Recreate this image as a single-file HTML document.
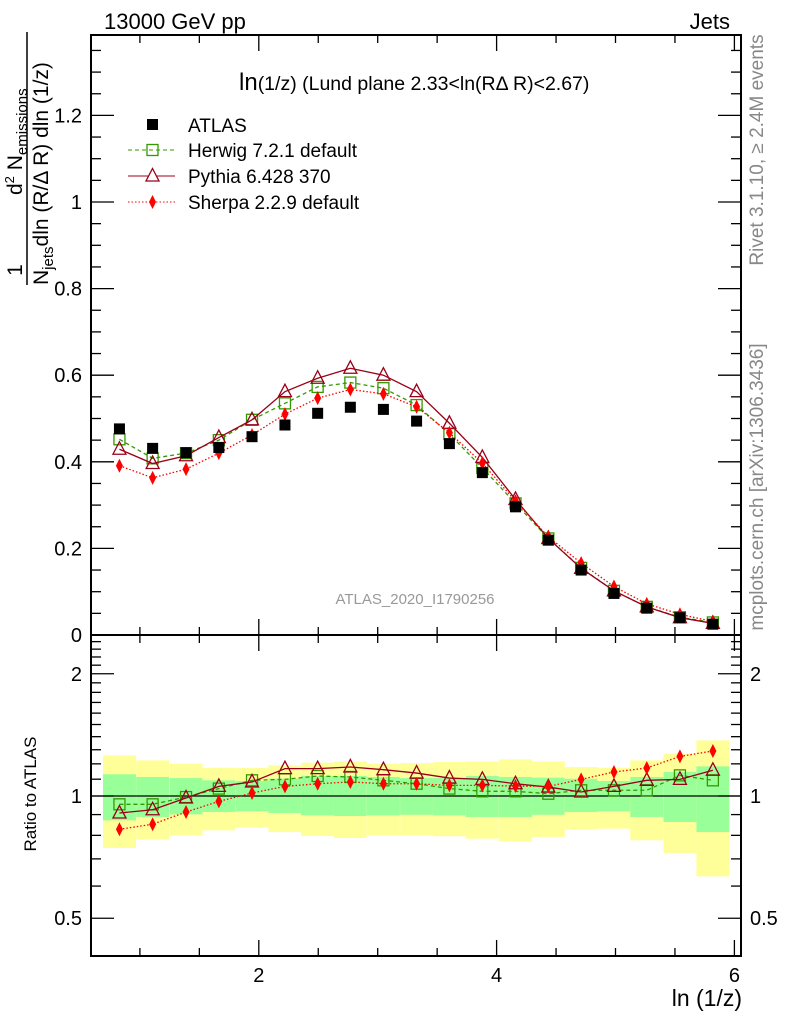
<!DOCTYPE html>
<html><head><meta charset="utf-8"><style>
html,body{margin:0;padding:0;background:#fff;}
svg{display:block;font-family:"Liberation Sans",sans-serif;}
</style></head><body>
<svg id="chart" width="786" height="1024" viewBox="0 0 786 1024" xmlns="http://www.w3.org/2000/svg">
<g id="bands"></g>
<g id="marks"></g>
<g id="axes"></g>
<text x="104" y="29" font-size="22">13000 GeV pp</text>
<text x="730" y="29" font-size="22" text-anchor="end">Jets</text>
<text x="239" y="90" font-size="19.5"><tspan font-size="24">ln</tspan>(1/z) (Lund plane 2.33&lt;ln(RΔ R)&lt;2.67)</text>
<text x="415" y="604" font-size="15" fill="#999" text-anchor="middle">ATLAS_2020_I1790256</text>
<text transform="translate(763,150) rotate(-90)" font-size="19" fill="#888" text-anchor="middle">Rivet 3.1.10, ≥ 2.4M events</text>
<text transform="translate(763,487) rotate(-90)" font-size="19" fill="#888" text-anchor="middle">mcplots.cern.ch [arXiv:1306.3436]</text>
<g>
<text transform="translate(22,270) rotate(-90)" font-size="21" text-anchor="middle">1</text>
<line x1="27" y1="32" x2="27" y2="285" stroke="#000" stroke-width="1.5"/>
<text transform="translate(48,285) rotate(-90)" font-size="21">N<tspan font-size="15" dy="5">jets</tspan><tspan dy="-5">dln (R/Δ R) dln (1/z)</tspan></text>
<text transform="translate(22,195) rotate(-90)" font-size="21">d<tspan font-size="13" dy="-8">2</tspan><tspan dy="8"> N</tspan><tspan font-size="15" dy="5">emissions</tspan></text>
</g>
<text transform="translate(36,794) rotate(-90)" font-size="17" text-anchor="middle">Ratio to ATLAS</text>
<text x="742" y="1006" font-size="23" text-anchor="end">ln (1/z)</text>
<g>
<g><rect x="147" y="119" width="11" height="11" fill="#000"/><text x="188" y="132" font-size="19">ATLAS</text></g>
<g><line x1="128" y1="150" x2="175" y2="150" stroke="#339900" stroke-dasharray="4,3"/><rect x="147" y="144.5" width="11" height="11" fill="none" stroke="#339900" stroke-width="1.3"/><text x="188" y="157" font-size="19">Herwig 7.2.1 default</text></g>
<g><line x1="128" y1="176" x2="175" y2="176" stroke="#99001a"/><path d="M152.5,168.5 L159,181 L146,181 Z" fill="#fff" stroke="#99001a" stroke-width="1.3"/><text x="188" y="183" font-size="19">Pythia 6.428 370</text></g>
<g><line x1="128" y1="202" x2="175" y2="202" stroke="#ff0000" stroke-dasharray="1.5,2"/><path d="M152.5,195 L156,202 L152.5,209 L149,202 Z" fill="#ff0000"/><text x="188" y="209" font-size="19">Sherpa 2.2.9 default</text></g>
</g>
</svg>
<script>
const binCenters=[0.828,1.107,1.388,1.664,1.943,2.22,2.495,2.77,3.048,3.327,3.603,3.88,4.159,4.435,4.711,4.987,5.263,5.542,5.819];
const binHalfWidth=0.1385;
const atlas=[0.476,0.431,0.421,0.433,0.458,0.485,0.512,0.526,0.521,0.494,0.442,0.375,0.296,0.219,0.150,0.096,0.062,0.040,0.025];
const herwig=[0.452,0.408,0.420,0.450,0.497,0.535,0.573,0.583,0.570,0.531,0.464,0.386,0.304,0.223,0.155,0.102,0.065,0.041,0.029];
const pythia=[0.429,0.396,0.414,0.456,0.497,0.562,0.593,0.616,0.600,0.562,0.489,0.410,0.313,0.223,0.154,0.102,0.065,0.040,0.027];
const sherpa=[0.391,0.363,0.383,0.420,0.462,0.510,0.547,0.567,0.557,0.527,0.467,0.397,0.309,0.227,0.166,0.112,0.072,0.048,0.031];
const herwigRatio=[0.954,0.954,0.994,1.043,1.093,1.099,1.120,1.114,1.093,1.072,1.043,1.027,1.027,1.013,1.033,1.033,1.033,1.124,1.093];
const pythiaRatio=[0.908,0.925,0.989,1.056,1.083,1.168,1.168,1.179,1.161,1.139,1.107,1.099,1.072,1.052,1.023,1.056,1.093,1.099,1.157];
const sherpaRatio=[0.828,0.852,0.913,0.970,1.017,1.056,1.072,1.083,1.072,1.072,1.062,1.062,1.058,1.056,1.099,1.146,1.172,1.252,1.291];
const bandOuterHi=[1.259,1.224,1.201,1.174,1.172,1.190,1.208,1.217,1.201,1.206,1.213,1.217,1.231,1.217,1.179,1.174,1.224,1.271,1.371];
const bandOuterLo=[0.745,0.781,0.800,0.823,0.836,0.815,0.797,0.788,0.800,0.800,0.796,0.785,0.773,0.793,0.826,0.831,0.778,0.724,0.634];
const bandInnerHi=[1.131,1.114,1.107,1.093,1.089,1.103,1.120,1.120,1.114,1.107,1.107,1.120,1.114,1.110,1.103,1.089,1.114,1.146,1.183];
const bandInnerLo=[0.871,0.888,0.901,0.913,0.917,0.908,0.896,0.893,0.896,0.899,0.896,0.888,0.888,0.899,0.913,0.917,0.888,0.863,0.815];
const mainTicks=[0,0.2,0.4,0.6,0.8,1,1.2];
const mainTickLabels=["0","0.2","0.4","0.6","0.8","1","1.2"];
const ratioTicks=[0.5,1,2];
const ratioTickLabels=["0.5","1","2"];
const xTicks=[2,4,6];
const xTickLabels=["2","4","6"];

const NS="http://www.w3.org/2000/svg";
const L=91,R=741,MT=35,MB=635,RT=635,RB=956;
const xs=v=>21+(v)*118.9;
const ym=v=>635-v*433;
const yr=v=>796-406*Math.log10(v);
function mk(tag,attrs,parent){const e=document.createElementNS(NS,tag);for(const k in attrs)e.setAttribute(k,attrs[k]);parent.appendChild(e);return e;}
const bands=document.getElementById('bands'),marks=document.getElementById('marks'),axes=document.getElementById('axes');

binCenters.forEach((c,i)=>{
  const x0=xs(c-binHalfWidth),w=xs(c+binHalfWidth)-x0;
  const a=mk('rect',{x:x0,y:yr(bandOuterHi[i]),width:w,height:yr(bandOuterLo[i])-yr(bandOuterHi[i]),fill:'#ffff99'},bands);
  
  
  const b=mk('rect',{x:x0,y:yr(bandInnerHi[i]),width:w,height:yr(bandInnerLo[i])-yr(bandInnerHi[i]),fill:'#99ff99'},bands);
  
  
});
const one=mk('line',{x1:L,x2:R,y1:yr(1),y2:yr(1),stroke:'#000','stroke-width':1.2},marks);



function series(vals,yf,color,dash,kind,name){
  const g=mk('g',{},marks);
  
  
  if(kind!=='atlas'){
    const pts=binCenters.map((c,i)=>xs(c)+','+yf(vals[i])).join(' ');
    const pl=mk('polyline',{points:pts,fill:'none',stroke:color,'stroke-width':1.3},g);
    if(dash)pl.setAttribute('stroke-dasharray',dash);
  }
  binCenters.forEach((c,i)=>{
    const x=xs(c),y=yf(vals[i]);let m;
    if(kind==='atlas')m=mk('rect',{x:x-5.5,y:y-5.5,width:11,height:11,fill:'#000'},g);
    else if(kind==='square')m=mk('rect',{x:x-5.5,y:y-5.5,width:11,height:11,fill:'none',stroke:color,'stroke-width':1.3},g);
    else if(kind==='tri')m=mk('path',{d:`M${x},${y-7.5}L${x+6.5},${y+5}L${x-6.5},${y+5}Z`,fill:'none',stroke:color,'stroke-width':1.3},g);
    else m=mk('path',{d:`M${x},${y-7}L${x+3.5},${y}L${x},${y+7}L${x-3.5},${y}Z`,fill:color},g);
    
    
  });
}
series(herwig,ym,'#339900','4,3','square','herwig-main');
series(pythia,ym,'#99001a',null,'tri','pythia-main');
series(sherpa,ym,'#ff0000','1.5,2','diamond','sherpa-main');
series(atlas,ym,'#000',null,'atlas','atlas-main');
series(herwigRatio,yr,'#339900','4,3','square','herwig-ratio');
series(pythiaRatio,yr,'#99001a',null,'tri','pythia-ratio');
series(sherpaRatio,yr,'#ff0000','1.5,2','diamond','sherpa-ratio');

function ln(x1,y1,x2,y2,w){mk('line',{x1,y1,x2,y2,stroke:'#000','stroke-width':w||1.3},axes);}
[[MT,MB],[RT,RB]].forEach(([t,b])=>{
  const f=mk('rect',{x:L,y:t,width:R-L,height:b-t,fill:'none',stroke:'#000','stroke-width':2},axes);
  
  
});
for(let v=1;v<=6.01;v+=0.5){
  const x=xs(v);if(x<L||x>R)continue;
  const major=Math.abs(v-Math.round(v/2)*2)<1e-6;const len=major?16:8;
  ln(x,MB,x,MB-len);ln(x,MT,x,MT+len);ln(x,RB,x,RB-len);ln(x,RT,x,RT+len);
}
xTicks.forEach((v,i)=>{
  const t=mk('text',{x:xs(v),y:982,'font-size':20,'text-anchor':'middle'},axes);t.textContent=xTickLabels[i];
  
  
});
for(let k=0;k<=27;k++){
  const v=k*0.05,y=ym(v);if(y<MT)continue;
  const major=k%4===0;const len=major?23:10;
  ln(L,y,L+len,y);ln(R,y,R-len,y);
}
mainTicks.forEach((v,i)=>{
  const t=mk('text',{x:82,y:ym(v)+7,'font-size':20,'text-anchor':'end'},axes);t.textContent=mainTickLabels[i];
  
  
});
const rMinor=[0.6,0.7,0.8,0.9,1.1,1.2,1.3,1.4,1.5,1.6,1.7,1.8,1.9,2.1,2.2,2.3,2.4];
rMinor.forEach(v=>{const y=yr(v);ln(L,y,L+10,y);ln(R,y,R-10,y);});
ratioTicks.forEach((v,i)=>{
  const y=yr(v);ln(L,y,L+23,y);ln(R,y,R-23,y);
  const t=mk('text',{x:82,y:y+7,'font-size':20,'text-anchor':'end'},axes);t.textContent=ratioTickLabels[i];
  
  
  const t2=mk('text',{x:750,y:y+7,'font-size':20},axes);t2.textContent=ratioTickLabels[i];
  
  
});
</script>
</body></html>
